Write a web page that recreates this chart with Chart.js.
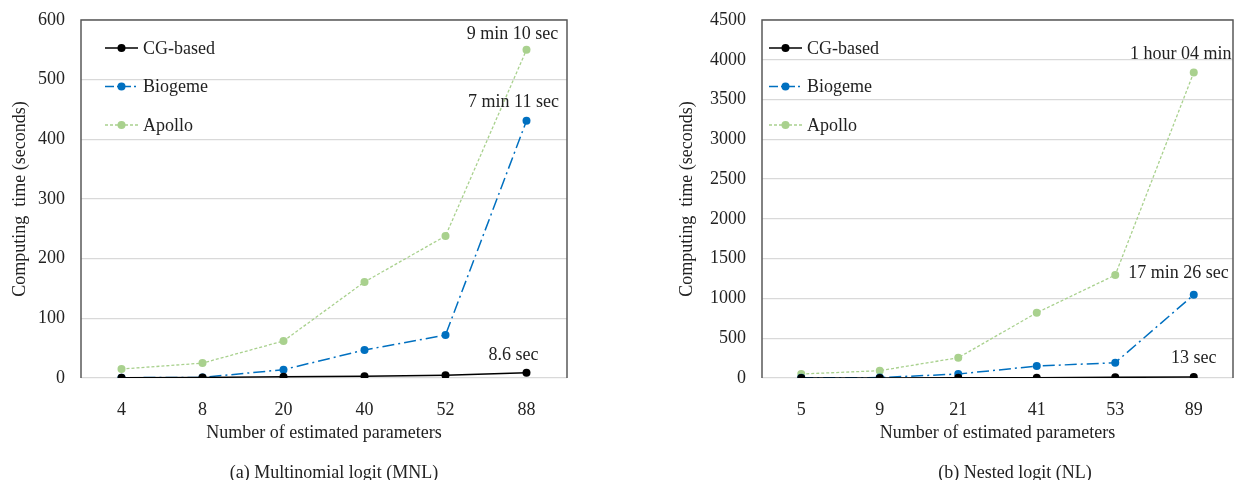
<!DOCTYPE html>
<html>
<head>
<meta charset="utf-8">
<script src="https://cdn.jsdelivr.net/npm/chart.js@4/dist/chart.umd.min.js"></script>
<style>
  body { margin: 0; background: #fff; width: 1237px; height: 480px; overflow: hidden; position: relative; }
  canvas { position: absolute; top: 0; }
  .cap { position: absolute; font-family: "Liberation Serif", "Times New Roman", serif; font-size: 18px; color: #222; white-space: nowrap; transform: translate(-50%, -50%); }
</style>
</head>
<body>
<canvas id="mnl" width="618" height="480" style="left:0"></canvas>
<canvas id="nl" width="619" height="480" style="left:618px"></canvas>
<div class="cap" style="left:334px; top:472px">(a) Multinomial logit (MNL)</div>
<div class="cap" style="left:1015px; top:472px">(b) Nested logit (NL)</div>
<script>
// series names
var seriesNames = ['CG-based', 'Biogeme', 'Apollo'];

// (a) MNL - computing time in seconds
var mnlParams = ['4', '8', '20', '40', '52', '88'];
var mnlCG = [0.5, 1, 2, 3, 4.5, 8.6];
var mnlBiogeme = [0.5, 1, 14, 47, 72, 431];
var mnlApollo = [15, 25, 62, 161, 238, 550];
var mnlNotes = ['9 min 10 sec', '7 min 11 sec', '8.6 sec'];

// (b) NL - computing time in seconds
var nlParams = ['5', '9', '21', '41', '53', '89'];
var nlCG = [1, 1.5, 2, 3, 8, 13];
var nlBiogeme = [2, 5, 50, 150, 192, 1046];
var nlApollo = [50, 92, 255, 820, 1294, 3840];
var nlNotes = ['1 hour 04 min', '17 min 26 sec', '13 sec'];

var FONT = '"Liberation Serif", "Times New Roman", serif';
var FS = 18;
var TXT = '#222';

// plot area frame (left/top/right dark, bottom is the zero grid line)
var framePlugin = {
  id: 'frame',
  beforeDatasetsDraw: function (chart) {
    var a = chart.chartArea, ctx = chart.ctx;
    ctx.save();
    ctx.strokeStyle = '#595959';
    ctx.lineWidth = 1.5;
    ctx.beginPath();
    ctx.moveTo(a.left, a.bottom);
    ctx.lineTo(a.left, a.top);
    ctx.lineTo(a.right, a.top);
    ctx.lineTo(a.right, a.bottom);
    ctx.stroke();
    ctx.restore();
  }
};

// legend drawn inside the plot area
var legendPlugin = {
  id: 'innerLegend',
  afterDraw: function (chart, args, opts) {
    var ctx = chart.ctx, a = chart.chartArea;
    ctx.save();
    chart.data.datasets.forEach(function (ds, i) {
      var y = a.top + opts.top + i * opts.gap;
      var x0 = a.left + opts.left, x1 = x0 + opts.len;
      ctx.strokeStyle = ds.borderColor;
      ctx.lineWidth = ds.borderWidth;
      ctx.setLineDash(ds.legendDash || []);
      ctx.beginPath();
      ctx.moveTo(x0, y);
      ctx.lineTo(x1, y);
      ctx.stroke();
      ctx.setLineDash([]);
      ctx.fillStyle = ds.pointBackgroundColor;
      ctx.beginPath();
      ctx.arc((x0 + x1) / 2, y, ds.pointRadius, 0, Math.PI * 2);
      ctx.fill();
      ctx.fillStyle = TXT;
      ctx.font = FS + 'px ' + FONT;
      ctx.textAlign = 'left';
      ctx.textBaseline = 'middle';
      ctx.fillText(ds.label, x1 + 5, y + 1);
    });
    ctx.restore();
  }
};

// text notes next to data points
var notePlugin = {
  id: 'notes',
  afterDatasetsDraw: function (chart, args, opts) {
    var ctx = chart.ctx;
    ctx.save();
    ctx.fillStyle = TXT;
    ctx.font = FS + 'px ' + FONT;
    ctx.textBaseline = 'middle';
    opts.items.forEach(function (n) {
      var pt = chart.getDatasetMeta(n.ds).data[n.idx];
      ctx.textAlign = n.align;
      ctx.fillText(n.text, pt.x + n.dx, pt.y + n.dy);
    });
    ctx.restore();
  }
};

function makeChart(id, labels, cg, bio, apo, yMax, yStep, yW, padRight, titlePad, legendPos, notes) {
  var ctx = document.getElementById(id).getContext('2d');
  return new Chart(ctx, {
    type: 'line',
    data: {
      labels: labels,
      datasets: [{
        label: seriesNames[0],
        data: cg,
        borderColor: '#000000',
        backgroundColor: '#000000',
        pointBackgroundColor: '#000000',
        pointBorderWidth: 0,
        pointRadius: 4,
        borderWidth: 1.5
      }, {
        label: seriesNames[1],
        data: bio,
        borderColor: '#0070C0',
        backgroundColor: '#0070C0',
        pointBackgroundColor: '#0070C0',
        pointBorderWidth: 0,
        pointRadius: 4,
        borderWidth: 1.5,
        borderDash: [12, 4, 2, 4],
        legendDash: [9, 3, 2, 3]
      }, {
        label: seriesNames[2],
        data: apo,
        borderColor: '#A9D18E',
        backgroundColor: '#A9D18E',
        pointBackgroundColor: '#A9D18E',
        pointBorderWidth: 0,
        pointRadius: 4,
        borderWidth: 1.3,
        borderDash: [3, 2],
        legendDash: [3, 2]
      }]
    },
    options: {
      responsive: false,
      animation: false,
      layout: { padding: { left: 0, right: padRight, top: 20, bottom: 35 } },
      plugins: {
        legend: { display: false },
        tooltip: { enabled: false },
        innerLegend: legendPos,
        notes: { items: notes }
      },
      scales: {
        x: {
          offset: true,
          grid: { display: false, drawTicks: false },
          border: { display: false },
          ticks: { padding: 21, color: TXT, font: { family: FONT, size: FS } },
          title: { display: true, text: 'Number of estimated parameters', color: TXT,
                   font: { family: FONT, size: FS }, padding: { top: 0, bottom: 1 } },
          afterFit: function (s) { s.height = 67; }
        },
        y: {
          min: 0,
          max: yMax,
          ticks: { stepSize: yStep, padding: 16, color: TXT, font: { family: FONT, size: FS },
                   callback: function (v) { return String(v); } },
          grid: { color: '#d9d9d9', lineWidth: 1.3, drawTicks: false },
          border: { display: false },
          title: { display: true, text: 'Computing  time (seconds)', color: TXT,
                   font: { family: FONT, size: FS }, padding: { top: titlePad, bottom: 0 } },
          afterFit: function (s) { s.width = yW; s.paddingTop = 0; s.paddingBottom = 0; }
        }
      }
    },
    plugins: [framePlugin, legendPlugin, notePlugin]
  });
}

makeChart('mnl', mnlParams, mnlCG, mnlBiogeme, mnlApollo, 600, 100, 81, 51, 9,
  { left: 24, len: 33, top: 28, gap: 38.5 },
  [{ text: mnlNotes[0], ds: 2, idx: 5, align: 'center', dx: -14, dy: -16 },
   { text: mnlNotes[1], ds: 1, idx: 5, align: 'center', dx: -13, dy: -19 },
   { text: mnlNotes[2], ds: 0, idx: 5, align: 'center', dx: -13, dy: -18 }]);

makeChart('nl', nlParams, nlCG, nlBiogeme, nlApollo, 4500, 500, 144, 1, 58,
  { left: 7, len: 33, top: 28, gap: 38.5 },
  [{ text: nlNotes[0], ds: 2, idx: 5, align: 'center', dx: -13, dy: -18 },
   { text: nlNotes[1], ds: 2, idx: 4, align: 'left', dx: 13, dy: -2 },
   { text: nlNotes[2], ds: 0, idx: 5, align: 'center', dx: 0, dy: -19 }]);
</script>
</body>
</html>
